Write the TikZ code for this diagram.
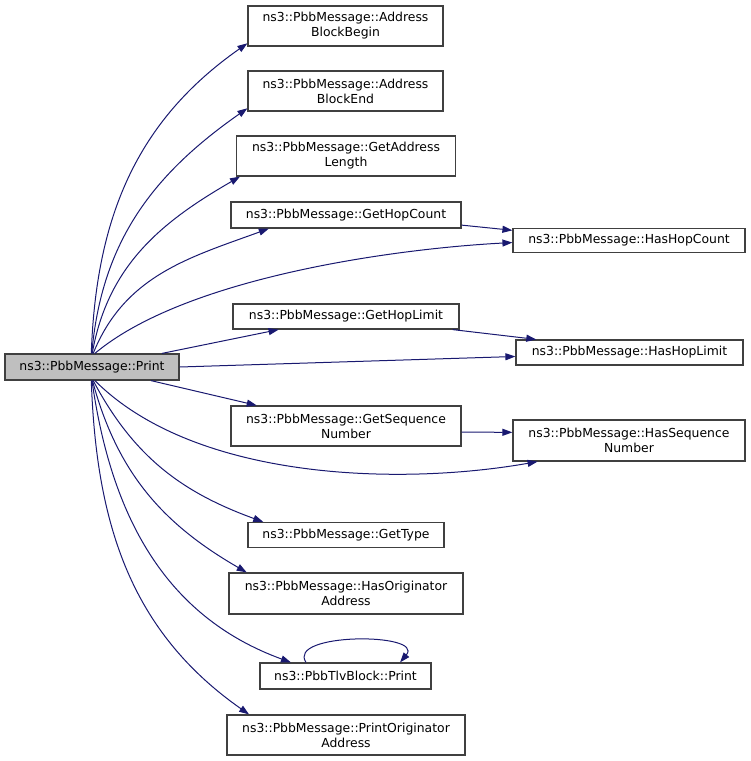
\documentclass[tikz,border=0pt]{standalone}
\usepackage{fontspec}
\setmainfont{DejaVu Sans}
\usetikzlibrary{arrows.meta, positioning, calc}
\definecolor{edgeBlue}{HTML}{191970}
\definecolor{boxGray}{HTML}{BFBFBF}
\definecolor{boxLine}{HTML}{404040}

\begin{document}
\begin{tikzpicture}[x=1pt, y=1pt,
    every node/.style={font=\fontsize{12.4}{15}\selectfont, align=center, inner sep=0pt},
    fn/.style={draw=boxLine, line width=1.2pt, fill=white, minimum height=25pt},
    fn2/.style={fn, minimum height=40pt},
    edge/.style={draw=edgeBlue, line width=1pt, -{Triangle[length=10pt, width=7pt]}}]
  \useasboundingbox (0,0) rectangle (751,-761);
    \node[fn, fill=boxGray, minimum width=174pt, minimum height=26pt] (print) at (92,-367) {ns3::PbbMessage::Print};
    \node[fn2, minimum width=195pt] (abb) at (345.5,-26) {ns3::PbbMessage::Address\\BlockBegin};
    \node[fn2, minimum width=195pt] (abe) at (345.5,-91) {ns3::PbbMessage::Address\\BlockEnd};
    \node[fn2, minimum width=219pt] (gal) at (346,-156) {ns3::PbbMessage::GetAddress\\Length};
    \node[fn, minimum width=230pt, minimum height=26pt] (ghc) at (346,-215) {ns3::PbbMessage::GetHopCount};
    \node[fn, minimum width=232pt, minimum height=24pt] (hhc) at (629,-240.5) {ns3::PbbMessage::HasHopCount};
    \node[fn, minimum width=226pt] (ghl) at (346,-316.5) {ns3::PbbMessage::GetHopLimit};
    \node[fn, minimum width=227pt] (hhl) at (629.5,-352.5) {ns3::PbbMessage::HasHopLimit};
    \node[fn2, minimum width=230pt] (gsn) at (346,-426) {ns3::PbbMessage::GetSequence\\Number};
    \node[fn2, minimum width=232pt, minimum height=41pt] (hsn) at (629,-440.5) {ns3::PbbMessage::HasSequence\\Number};
    \node[fn, minimum width=196pt] (gty) at (346,-535) {ns3::PbbMessage::GetType};
    \node[fn2, minimum width=234pt, minimum height=41pt] (hoa) at (346,-593.5) {ns3::PbbMessage::HasOriginator\\Address};
    \node[fn, minimum width=171pt, minimum height=26pt] (tlv) at (345.5,-676) {ns3::PbbTlvBlock::Print};
    \node[fn2, minimum width=238pt] (poa) at (346,-735) {ns3::PbbMessage::PrintOriginator\\Address};

    % calls from Print, upper fan
    \draw[edge] (print.93) to[out=88, in=215] (abb.190);
    \draw[edge] (print.91) to[out=85, in=215] (abe.190);
    \draw[edge] (print.89) to[out=80, in=210] (gal.191);
    \draw[edge] (print.85) to[out=68, in=200] (ghc.190);
    \draw[edge] (print.78) to[out=40, in=183, looseness=0.7] (hhc.181);
    \draw[edge] (print.11) -- (ghl.191);
    \draw[edge] (print.east) -- (hhl.182);
    % calls from Print, lower fan
    \draw[edge] (print.-13) -- (gsn.167);
    \draw[edge] (print.-78) to[out=-45, in=190, looseness=0.8] (hsn.193);
    \draw[edge] (print.-85) to[out=-62, in=160] (gty.171);
    \draw[edge] (print.-88) to[out=-75, in=150] (hoa.168);
    \draw[edge] (print.-90) to[out=-82, in=160] (tlv.166);
    \draw[edge] (print.-93) to[out=-88, in=145] (poa.168);
    % second level
    \draw[edge] (ghc.-5) -- (hhc.175);
    \draw[edge] (ghl.-7) -- (hhl.172);
    \draw[edge] (gsn.-3) -- (hsn.176);
    \draw[edge] (tlv.161) .. controls +(-20,30) and +(25,30) .. (tlv.14);
  \end{tikzpicture}
\end{document}
